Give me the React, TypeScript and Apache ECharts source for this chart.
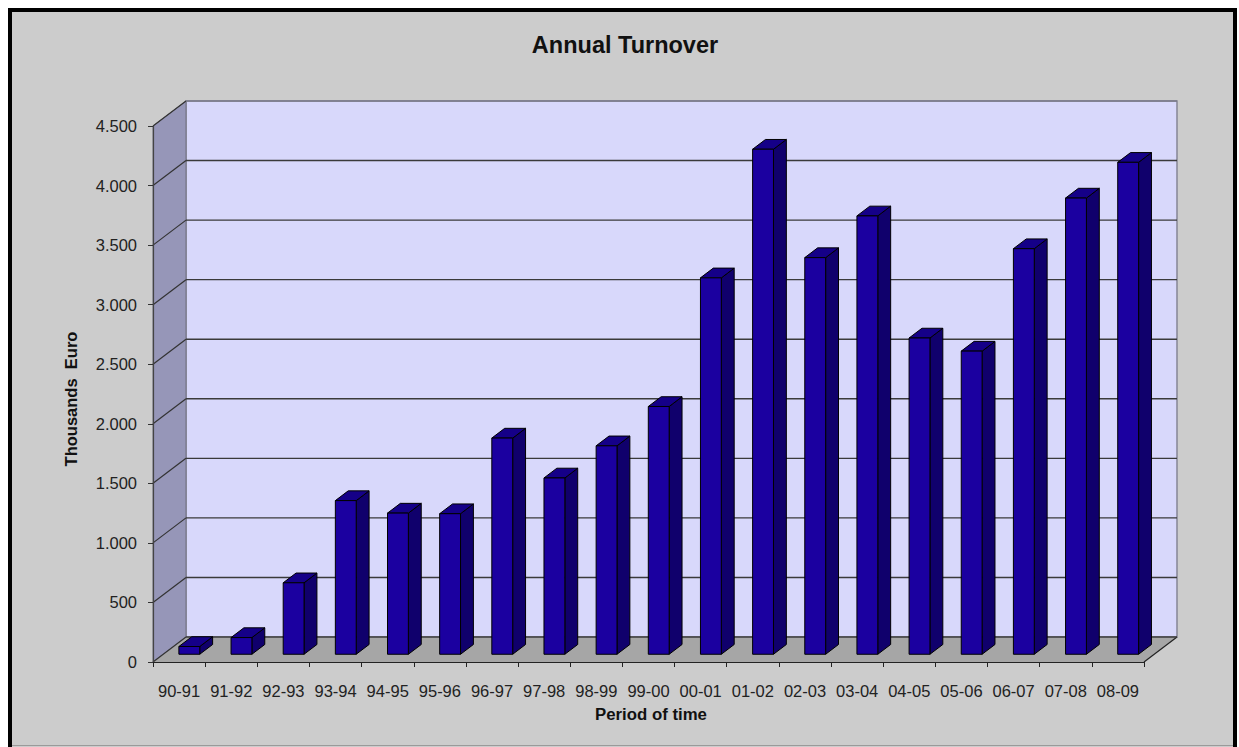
import React, { useEffect, useRef } from "react";
import * as echarts from "echarts";

const categories = [
  "90-91", "91-92", "92-93", "93-94", "94-95", "95-96", "96-97", "97-98", "98-99", "99-00",
  "00-01", "01-02", "02-03", "03-04", "04-05", "05-06", "06-07", "07-08", "08-09",
];
const turnover = [
  65, 140, 600, 1290, 1185, 1180, 1815, 1480, 1750, 2080,
  3160, 4240, 3330, 3680, 2655, 2545, 3405, 3830, 4130,
];
const yTicks = [0, 500, 1000, 1500, 2000, 2500, 3000, 3500, 4000, 4500];
const titleText = "Annual Turnover";
const yTitle = "Thousands  Euro";
const xTitle = "Period of time";

const FONT = "'Liberation Sans', Arial, Helvetica, sans-serif";
const DX = 33;
const DY = -25;
const D1 = 0.31;
const D2 = 0.7;
const BAR_W = 0.4;

function fmt(v: number): string {
  if (v >= 1000) {
    const t = Math.floor(v / 1000);
    const r = v % 1000;
    return t + "." + String(r).padStart(3, "0");
  }
  return String(v);
}

export default function App() {
  const ref = useRef<HTMLDivElement>(null);
  useEffect(() => {
    if (!ref.current) return;
    const chart = echarts.init(ref.current, undefined, { renderer: "svg" });
    const option: any = {
      animation: false,
      backgroundColor: "#ffffff",
      textStyle: { fontFamily: FONT },
      graphic: [
        {
          type: "rect",
          z: -100,
          silent: true,
          shape: { x: 10, y: 10, width: 1225, height: 780 },
          style: { fill: "#cccccc", stroke: "#000000", lineWidth: 4 },
        },
        {
          type: "line",
          z: -99,
          silent: true,
          shape: { x1: 12, y1: 745.5, x2: 1233, y2: 745.5 },
          style: { stroke: "#9a9a9a", lineWidth: 1 },
        },
        {
          type: "text",
          x: 625,
          y: 45,
          style: {
            text: titleText,
            font: `bold 23.5px ${FONT}`,
            fill: "#111",
            textAlign: "center",
            textVerticalAlign: "middle",
          },
        },
        {
          type: "text",
          x: 71,
          y: 399,
          rotation: Math.PI / 2,
          style: {
            text: yTitle,
            font: `bold 16.5px ${FONT}`,
            fill: "#111",
            textAlign: "center",
            textVerticalAlign: "middle",
          },
        },
        {
          type: "text",
          x: 651,
          y: 714,
          style: {
            text: xTitle,
            font: `bold 16.8px ${FONT}`,
            fill: "#111",
            textAlign: "center",
            textVerticalAlign: "middle",
          },
        },
      ],
      grid: { left: 153, top: 126, width: 991, height: 536, containLabel: false },
      xAxis: {
        type: "category",
        data: categories,
        z: 10,
        axisLine: { show: true, lineStyle: { color: "#222", width: 1.2 } },
        axisTick: { show: true, length: 5, lineStyle: { color: "#222" } },
        axisLabel: { interval: 0, margin: 20, fontSize: 16.5, color: "#222", fontFamily: FONT },
        splitLine: { show: false },
      },
      yAxis: {
        type: "value",
        min: 0,
        max: 4500,
        interval: 500,
        z: 10,
        axisLine: { show: true, lineStyle: { color: "#444", width: 1.2 } },
        axisTick: { show: true, length: 5, lineStyle: { color: "#333" } },
        axisLabel: { margin: 16, fontSize: 16.5, color: "#222", fontFamily: FONT, formatter: (v: number) => fmt(v) },
        splitLine: { show: false },
      },
      series: [
        {
          type: "custom",
          name: "walls",
          z: 1,
          silent: true,
          data: [[0, 0]],
          renderItem: (params: any, api: any) => {
            const cs = params.coordSys;
            const x0 = cs.x, y0 = cs.y, w = cs.width, h = cs.height;
            return {
              type: "group",
              children: [
                {
                  type: "rect",
                  shape: { x: x0 + DX, y: y0 + DY, width: w, height: h },
                  style: { fill: "#d8d8fb", stroke: "#858595", lineWidth: 1.5 },
                },
                {
                  type: "polygon",
                  shape: { points: [[x0, y0], [x0 + DX, y0 + DY], [x0 + DX, y0 + h + DY], [x0, y0 + h]] },
                  style: { fill: "#9696b8", stroke: "#707080", lineWidth: 1 },
                },
                {
                  type: "polygon",
                  shape: { points: [[x0, y0 + h], [x0 + DX, y0 + h + DY], [x0 + w + DX, y0 + h + DY], [x0 + w, y0 + h]] },
                  style: { fill: "#a6a6a6" },
                },
                {
                  type: "line",
                  shape: { x1: x0 + w, y1: y0 + h, x2: x0 + w + DX, y2: y0 + h + DY },
                  style: { stroke: "#222", lineWidth: 1.2 },
                },
              ],
            };
          },
        },
        {
          type: "custom",
          name: "gridlines",
          z: 2,
          silent: true,
          data: yTicks.map((v) => [0, v]),
          renderItem: (params: any, api: any) => {
            const cs = params.coordSys;
            const p = api.coord([0, api.value(1)]);
            const y = p[1];
            const v = api.value(1);
            const col = v === 4500 ? "#7a7a8a" : "#3a3a3a";
            return {
              type: "group",
              children: [
                {
                  type: "line",
                  shape: { x1: cs.x, y1: y, x2: cs.x + DX, y2: y + DY },
                  style: { stroke: "#333", lineWidth: 1.2 },
                },
                {
                  type: "line",
                  shape: { x1: cs.x + DX, y1: y + DY, x2: cs.x + cs.width + DX, y2: y + DY },
                  style: { stroke: col, lineWidth: 1.4 },
                },
              ],
            };
          },
        },
        {
          type: "custom",
          name: "Turnover",
          z: 5,
          data: turnover.map((v, i) => [i, v]),
          encode: { x: 0, y: 1 },
          renderItem: (params: any, api: any) => {
            const i = api.value(0);
            const v = api.value(1);
            const base = api.coord([i, 0]);
            const top = api.coord([i, v]);
            const band = api.size([1, 0])[0];
            const hw = (band * BAR_W) / 2;
            const cx = base[0] + DX * D1;
            const yb = base[1] + DY * D1;
            const yt = top[1] + DY * D1;
            const xl = cx - hw;
            const xr = cx + hw;
            const ddx = DX * (D2 - D1);
            const ddy = DY * (D2 - D1);
            return {
              type: "group",
              children: [
                {
                  type: "polygon",
                  shape: { points: [[xr, yt], [xr + ddx, yt + ddy], [xr + ddx, yb + ddy], [xr, yb]] },
                  style: { fill: "#10006c", stroke: "#000", lineWidth: 1 },
                },
                {
                  type: "polygon",
                  shape: { points: [[xl, yt], [xr, yt], [xr + ddx, yt + ddy], [xl + ddx, yt + ddy]] },
                  style: { fill: "#150088", stroke: "#000", lineWidth: 1 },
                },
                {
                  type: "rect",
                  shape: { x: xl, y: yt, width: xr - xl, height: yb - yt },
                  style: { fill: "#1b00a0", stroke: "#000", lineWidth: 1 },
                },
              ],
            };
          },
        },
      ],
    };
    chart.setOption(option);
    return () => chart.dispose();
  }, []);
  return (
    <div
      ref={ref}
      style={{ position: "fixed", left: 0, top: 0, width: 1239, height: 747 }}
    />
  );
}
